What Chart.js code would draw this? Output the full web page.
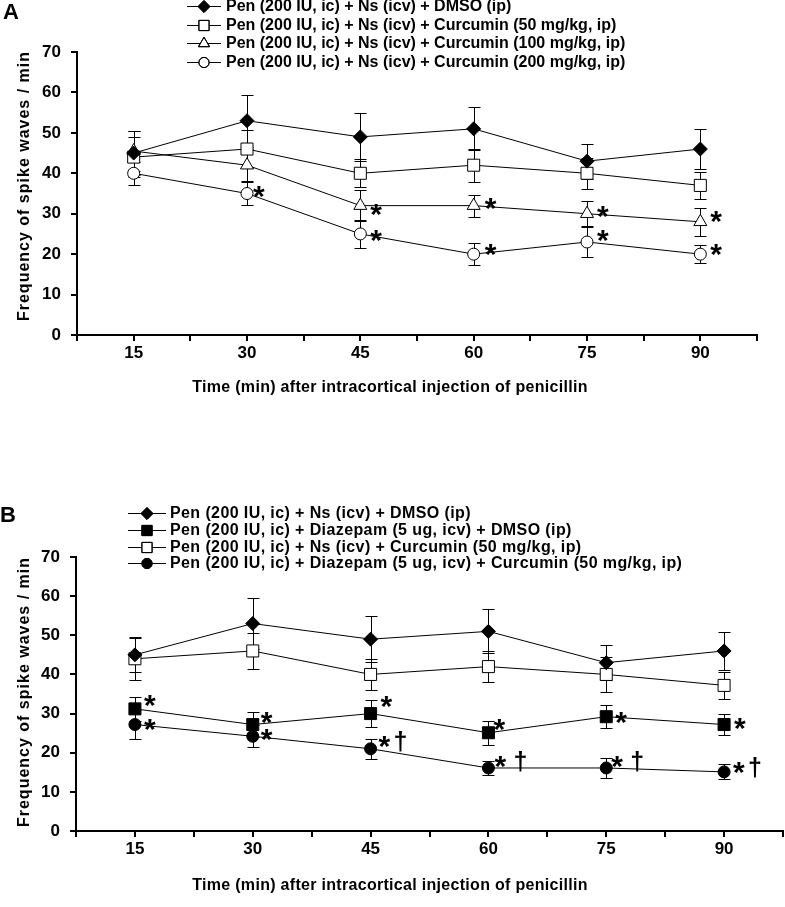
<!DOCTYPE html>
<html>
<head>
<meta charset="utf-8">
<script src="https://cdn.jsdelivr.net/npm/chart.js@4.4.1/dist/chart.umd.min.js"></script>
<style>
  body { margin: 0; background: #fff; }
  #wrap { position: relative; width: 785px; height: 907px; }
  canvas { position: absolute; left: 0; }
  #chartA { top: 0; }
  #chartB { top: 410px; }
</style>
</head>
<body>
<div id="wrap">
  <canvas id="chartA" width="785" height="410"></canvas>
  <canvas id="chartB" width="785" height="497"></canvas>
</div>
<script>
// time points (min after penicillin)
const timeMin = [15, 30, 45, 60, 75, 90];

// ---- panel A ----
const aLabels = [
  'Pen (200 IU, ic) + Ns (icv) + DMSO (ip)',
  'Pen (200 IU, ic) + Ns (icv) + Curcumin (50 mg/kg, ip)',
  'Pen (200 IU, ic) + Ns (icv) + Curcumin (100 mg/kg, ip)',
  'Pen (200 IU, ic) + Ns (icv) + Curcumin (200 mg/kg, ip)'
];
const aDmso = [45, 53, 49, 51, 43, 46];
const aDmsoErr = [5.5, 6.4, 5.9, 5.3, 4.3, 4.9];
const aCur50 = [44, 46, 40, 42, 40, 37];
const aCur50Err = [5, 4.7, 3.5, 4.1, 3.9, 3.3];
const aCur100 = [45.5, 42, 32, 32, 30, 28];
const aCur100Err = [5, 4, 3.9, 2.7, 3.1, 3.5];
const aCur200 = [40, 35, 25, 20, 23, 20];
const aCur200Err = [2.9, 2.8, 3.5, 2.7, 3.6, 2.2];
const aCur100Sig = ['', '', '*', '*', '*', '*'];
const aCur200Sig = ['', '*', '*', '*', '*', '*'];

// ---- panel B ----
const bLabels = [
  'Pen (200 IU, ic) + Ns (icv) + DMSO (ip)',
  'Pen (200 IU, ic) + Diazepam (5 ug, icv) + DMSO (ip)',
  'Pen (200 IU, ic) + Ns (icv) + Curcumin (50 mg/kg, ip)',
  'Pen (200 IU, ic) + Diazepam (5 ug, icv) + Curcumin (50 mg/kg, ip)'
];
const bDmso = [45, 53, 49, 51, 43, 46];
const bDmsoErr = [4.5, 6.6, 5.9, 5.6, 4.5, 4.9];
const bDiazDmso = [31.2, 27.2, 30, 25.1, 29.2, 27.2];
const bDiazDmsoErr = [3.1, 3.1, 3.4, 3.1, 2.9, 2.6];
const bCur50 = [44, 46, 40, 42, 40, 37.2];
const bCur50Err = [5.3, 4.5, 4, 3.9, 4.4, 3.4];
const bDiazCur = [27.2, 24.2, 21, 16.1, 16.1, 15.1];
const bDiazCurErr = [3.7, 2.8, 2.5, 1.8, 2.6, 1.9];
const bDiazDmsoSig = ['*', '*', '*', '*', '*', '*'];
const bDiazCurSig = ['*', '*', '*†', '*†', '*†', '*†'];

// axis settings
const xMin = 7.5, xMax = 97.5, xStep = 7.5;
const yMin = 0, yMax = 70, yStep = 10;

// where the significance marks sit relative to their point (px)
const aCur100SigPos = [[0, 0], [0, 0], [16, 1], [17, -5], [16, -5], [16, -8]];
const aCur200SigPos = [[0, 0], [12, -5], [16, -1], [17, -7], [16, -9], [16, -7]];
const bDiazDmsoSigPos = [[15, -11], [14, -10], [16, -15], [11, -11], [15, -2], [16, -4]];
const bDiazCurSigPos = [[15, -3], [14, -4], [14, -10], [12, -9], [11, -9], [15, -7]];
// gap between the star and the dagger
const bDiazCurDaggerGap = [0, 0, 11, 15, 15, 11];

const FONT = '"Liberation Sans", Arial, sans-serif';

function series(label, values, err, style, sig, sigPos, daggerGap) {
  return {
    label: label,
    data: timeMin.map((t, i) => ({ x: t, y: values[i] })),
    err: err,
    sig: sig || null,
    sigPos: sigPos || null,
    daggerGap: daggerGap || null,
    borderColor: '#000',
    borderWidth: 1,
    pointStyle: style.shape,
    pointRadius: style.r,
    pointHoverRadius: style.r,
    pointBackgroundColor: style.fill,
    pointBorderColor: '#000',
    pointBorderWidth: 1,
    tension: 0,
    fill: false
  };
}

const diamond = { shape: 'rectRot', r: 7, fill: '#000' };
const openSquare = { shape: 'rect', r: 8.5, fill: '#fff' };
const blackSquare = { shape: 'rect', r: 8.5, fill: '#000' };
const openTriangle = { shape: 'triangle', r: 7.5, fill: '#fff' };
const openCircle = { shape: 'circle', r: 6, fill: '#fff' };
const blackCircle = { shape: 'circle', r: 6, fill: '#000' };

// error bars, significance marks, legend and titles
const panelDecor = {
  id: 'panelDecor',
  beforeDatasetsDraw(chart) {
    const ctx = chart.ctx;
    const ys = chart.scales.y;
    ctx.save();
    ctx.strokeStyle = '#000';
    ctx.lineWidth = 1;
    chart.data.datasets.forEach((ds, di) => {
      const meta = chart.getDatasetMeta(di);
      meta.data.forEach((pt, i) => {
        const v = ds.data[i].y, e = ds.err[i];
        const top = Math.round(ys.getPixelForValue(v + e)) + 0.5;
        const bot = Math.round(ys.getPixelForValue(v - e)) + 0.5;
        const x = Math.round(pt.x) + 0.5;
        ctx.beginPath();
        ctx.moveTo(x, top); ctx.lineTo(x, bot);
        ctx.moveTo(x - 6, top); ctx.lineTo(x + 6, top);
        ctx.moveTo(x - 6, bot); ctx.lineTo(x + 6, bot);
        ctx.stroke();
      });
    });
    ctx.restore();
  },
  afterDatasetsDraw(chart) {
    const ctx = chart.ctx;
    ctx.save();
    ctx.fillStyle = '#000';
    ctx.textAlign = 'left';
    ctx.textBaseline = 'alphabetic';
    chart.data.datasets.forEach((ds, di) => {
      if (!ds.sig) return;
      const meta = chart.getDatasetMeta(di);
      meta.data.forEach((pt, i) => {
        const s = ds.sig[i];
        if (!s) return;
        let cx = pt.x + ds.sigPos[i][0];
        const cy = pt.y + ds.sigPos[i][1];
        for (const ch of s) {
          if (ch === '*') {
            ctx.font = 'bold 30px ' + FONT;
            ctx.fillText('*', cx - 6, cy + 17);
            cx += ds.daggerGap ? ds.daggerGap[i] : 12;
          } else {
            ctx.font = 'bold 25px ' + FONT;
            ctx.fillText(ch, cx - 2, cy + 11);
            cx += 12;
          }
        }
      });
    });
    ctx.restore();
  },
  afterDraw(chart, args, o) {
    const ctx = chart.ctx;
    ctx.save();
    ctx.fillStyle = '#000';
    // panel letter
    ctx.font = 'bold 22px ' + FONT;
    ctx.textBaseline = 'middle';
    ctx.textAlign = 'left';
    ctx.fillText(o.letter, o.letterX, o.letterY);
    // legend
    chart.data.datasets.forEach((ds, i) => {
      const y = o.legendY[i];
      ctx.strokeStyle = '#000';
      ctx.lineWidth = 1;
      ctx.beginPath();
      ctx.moveTo(o.legendLine[0], y + 0.5);
      ctx.lineTo(o.legendLine[1], y + 0.5);
      ctx.stroke();
      ctx.fillStyle = ds.pointBackgroundColor;
      Chart.helpers.drawPoint(ctx, {
        pointStyle: ds.pointStyle, radius: ds.pointRadius * 0.85, rotation: 0, borderWidth: 1
      }, (o.legendLine[0] + o.legendLine[1]) / 2, y + 0.5);
      ctx.stroke();
      ctx.fillStyle = '#000';
      ctx.font = 'bold 16px ' + FONT;
      ctx.letterSpacing = o.legendSpacing;
      ctx.textAlign = 'left';
      ctx.textBaseline = 'middle';
      ctx.fillText(ds.label, o.legendTextX, y + 1);
      ctx.letterSpacing = '0px';
    });
    // x title
    ctx.font = 'bold 16px ' + FONT;
    ctx.letterSpacing = '0.3px';
    ctx.textAlign = 'center';
    ctx.textBaseline = 'middle';
    ctx.fillText('Time (min) after intracortical injection of penicillin', o.xTitleX, o.xTitleY);
    // y title
    ctx.translate(o.yTitleX, o.yTitleY);
    ctx.rotate(-Math.PI / 2);
    ctx.letterSpacing = '1px';
    ctx.fillText('Frequency of spike waves / min', 0, 0);
    ctx.restore();
  }
};

function makeChart(id, datasets, pad, xAxisH, yAxisW, decor) {
  const axisGrid = { drawOnChartArea: false, drawTicks: true, tickLength: 6, color: '#000', lineWidth: 2 };
  const tickFont = { family: FONT, size: 17, weight: 'bold' };
  return new Chart(document.getElementById(id), {
    type: 'line',
    data: { datasets: datasets },
    options: {
      responsive: false,
      animation: false,
      devicePixelRatio: 1,
      layout: { padding: pad, autoPadding: false },
      plugins: { legend: { display: false }, tooltip: { enabled: false }, panelDecor: decor },
      scales: {
        x: {
          type: 'linear', min: xMin, max: xMax,
          grid: axisGrid,
          border: { color: '#000', width: 2 },
          ticks: {
            stepSize: xStep, autoSkip: false, maxRotation: 0, padding: 2,
            color: '#000', font: tickFont,
            callback: v => (v % 15 === 0 ? v : '')
          },
          afterFit: s => { s.height = xAxisH; }
        },
        y: {
          min: yMin, max: yMax,
          grid: axisGrid,
          border: { color: '#000', width: 2 },
          ticks: { stepSize: yStep, padding: 10, color: '#000', font: tickFont },
          afterFit: s => { s.width = yAxisW; }
        }
      }
    },
    plugins: [panelDecor]
  });
}

makeChart('chartA', [
  series(aLabels[0], aDmso, aDmsoErr, diamond),
  series(aLabels[1], aCur50, aCur50Err, openSquare),
  series(aLabels[2], aCur100, aCur100Err, openTriangle, aCur100Sig, aCur100SigPos),
  series(aLabels[3], aCur200, aCur200Err, openCircle, aCur200Sig, aCur200SigPos)
], { left: 0, right: 28, top: 52, bottom: 0 }, 75, 77, {
  letter: 'A', letterX: 3, letterY: 13,
  legendY: [6, 25, 43, 62], legendLine: [187, 221], legendTextX: 226, legendSpacing: '0px',
  xTitleX: 390, xTitleY: 388, yTitleX: 25, yTitleY: 186
});

makeChart('chartB', [
  series(bLabels[0], bDmso, bDmsoErr, diamond),
  series(bLabels[1], bDiazDmso, bDiazDmsoErr, blackSquare, bDiazDmsoSig, bDiazDmsoSigPos),
  series(bLabels[2], bCur50, bCur50Err, openSquare),
  series(bLabels[3], bDiazCur, bDiazCurErr, blackCircle, bDiazCurSig, bDiazCurSigPos, bDiazCurDaggerGap)
], { left: 0, right: 1, top: 147, bottom: 0 }, 76, 76, {
  letter: 'B', letterX: 0, letterY: 106,
  legendY: [103, 120, 137, 153], legendLine: [128, 166], legendTextX: 170, legendSpacing: '0.4px',
  xTitleX: 390, xTitleY: 476, yTitleX: 25, yTitleY: 282
});
</script>
</body>
</html>
